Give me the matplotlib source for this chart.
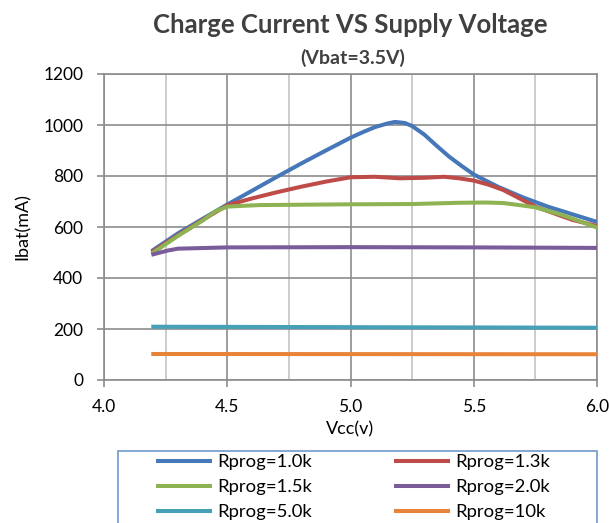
import matplotlib.pyplot as plt
from matplotlib.ticker import MultipleLocator
from matplotlib.patches import Rectangle

plt.rcParams['font.family'] = ['Lato', 'DejaVu Sans']

# Rprog=1.0k
x_10 = [4.2, 4.3, 4.4, 4.5, 4.6, 4.7, 4.8, 4.9, 5.0, 5.05, 5.1, 5.15, 5.18, 5.22, 5.25, 5.3, 5.35, 5.4, 5.45, 5.5, 5.6, 5.7, 5.8, 5.9, 6.0]
y_10 = [510, 575, 632, 688, 742, 796, 849, 900, 950, 972, 992, 1006, 1012, 1008, 996, 962, 918, 876, 840, 806, 757, 716, 680, 650, 620]
# Rprog=1.3k
x_13 = [4.2, 4.3, 4.4, 4.5, 4.6, 4.7, 4.8, 4.9, 5.0, 5.1, 5.2, 5.3, 5.38, 5.44, 5.5, 5.56, 5.62, 5.68, 5.75, 5.85, 5.9, 6.0]
y_13 = [505, 568, 628, 685, 712, 736, 758, 778, 795, 797, 791, 793, 797, 791, 782, 766, 745, 715, 680, 645, 628, 604]
# Rprog=1.5k
x_15 = [4.2, 4.3, 4.4, 4.45, 4.5, 4.63, 5.0, 5.25, 5.44, 5.55, 5.62, 5.7, 5.75, 5.85, 5.9, 6.0]
y_15 = [500, 565, 625, 660, 680, 686, 689, 690, 695, 696, 694, 684, 677, 650, 633, 598]
# Rprog=2.0k
x_20 = [4.2, 4.26, 4.3, 4.5, 5.0, 5.5, 6.0]
y_20 = [493, 508, 515, 520, 521, 520, 518]
# Rprog=5.0k
x_50 = [4.2, 6.0]
y_50 = [209, 205]
# Rprog=10k
x_100 = [4.2, 6.0]
y_100 = [102, 101]

series = [
    (x_10, y_10, 'Rprog=1.0k', '#4677B8'),
    (x_13, y_13, 'Rprog=1.3k', '#BE4B48'),
    (x_15, y_15, 'Rprog=1.5k', '#8DB352'),
    (x_20, y_20, 'Rprog=2.0k', '#7A5C9B'),
    (x_50, y_50, 'Rprog=5.0k', '#46A0B8'),
    (x_100, y_100, 'Rprog=10k', '#E8843A'),
]

fig = plt.figure(figsize=(6.09, 5.23), dpi=100)
ax = fig.add_axes([104/609, 1-380/523, (597-104)/609, (380-74)/523])

lines = []
for xs, ys, lab, c in series:
    ln, = ax.plot(xs, ys, color=c, lw=2.9, label=lab, solid_joinstyle='round', zorder=3)
    lines.append(ln)

ax.set_xlim(4.0, 6.0)
ax.set_ylim(0, 1200)
ax.xaxis.set_major_locator(MultipleLocator(0.5))
ax.xaxis.set_minor_locator(MultipleLocator(0.25))
ax.yaxis.set_major_locator(MultipleLocator(200))
ax.xaxis.set_major_formatter(lambda v, p: f'{v:.1f}')

ax.grid(which='major', color='#8c8c8c', lw=1.2, zorder=0)
ax.grid(which='minor', axis='x', color='#c4c4c4', lw=1.2, zorder=0)
ax.set_axisbelow(True)
for s in ax.spines.values():
    s.set_color('#8c8c8c')
    s.set_linewidth(1.2)
ax.tick_params(which='major', direction='out', length=5, color='#8c8c8c', width=1.2,
               labelsize=12.5, labelcolor='black')
ax.tick_params(axis='x', pad=9)
ax.tick_params(axis='y', pad=10)
ax.tick_params(which='minor', length=0)

ax.set_xlabel('Vcc(v)', fontsize=13, labelpad=4)
ax.set_ylabel('Ibat(mA)', fontsize=13, labelpad=9)

fig.text(350/609, 1-25/523, 'Charge Current VS Supply Voltage', ha='center', va='center',
         fontsize=18.5, fontweight='bold', color='#404040')
fig.text(353/609, 1-58/523, '(Vbat=3.5V)', ha='center', va='center',
         fontsize=14, fontweight='bold', color='#404040')

# legend frame (runs off the bottom of the picture)
fig.patches.append(Rectangle((118/609, -0.05), (597-118)/609, 1-451/523+0.05,
                             transform=fig.transFigure, fill=False,
                             edgecolor='#7BA0D0', lw=1.3))
order = [0, 2, 4, 1, 3, 5]
leg = fig.legend([lines[i] for i in order], [series[i][2] for i in order],
                 loc='upper left', ncol=2, bbox_to_anchor=(158/609, 1-454/523),
                 fontsize=13.3, frameon=False, handlelength=2.8, handletextpad=0.4,
                 borderaxespad=0, borderpad=0, labelspacing=0.5, columnspacing=4.55)

fig.savefig('out.png', dpi=100)
